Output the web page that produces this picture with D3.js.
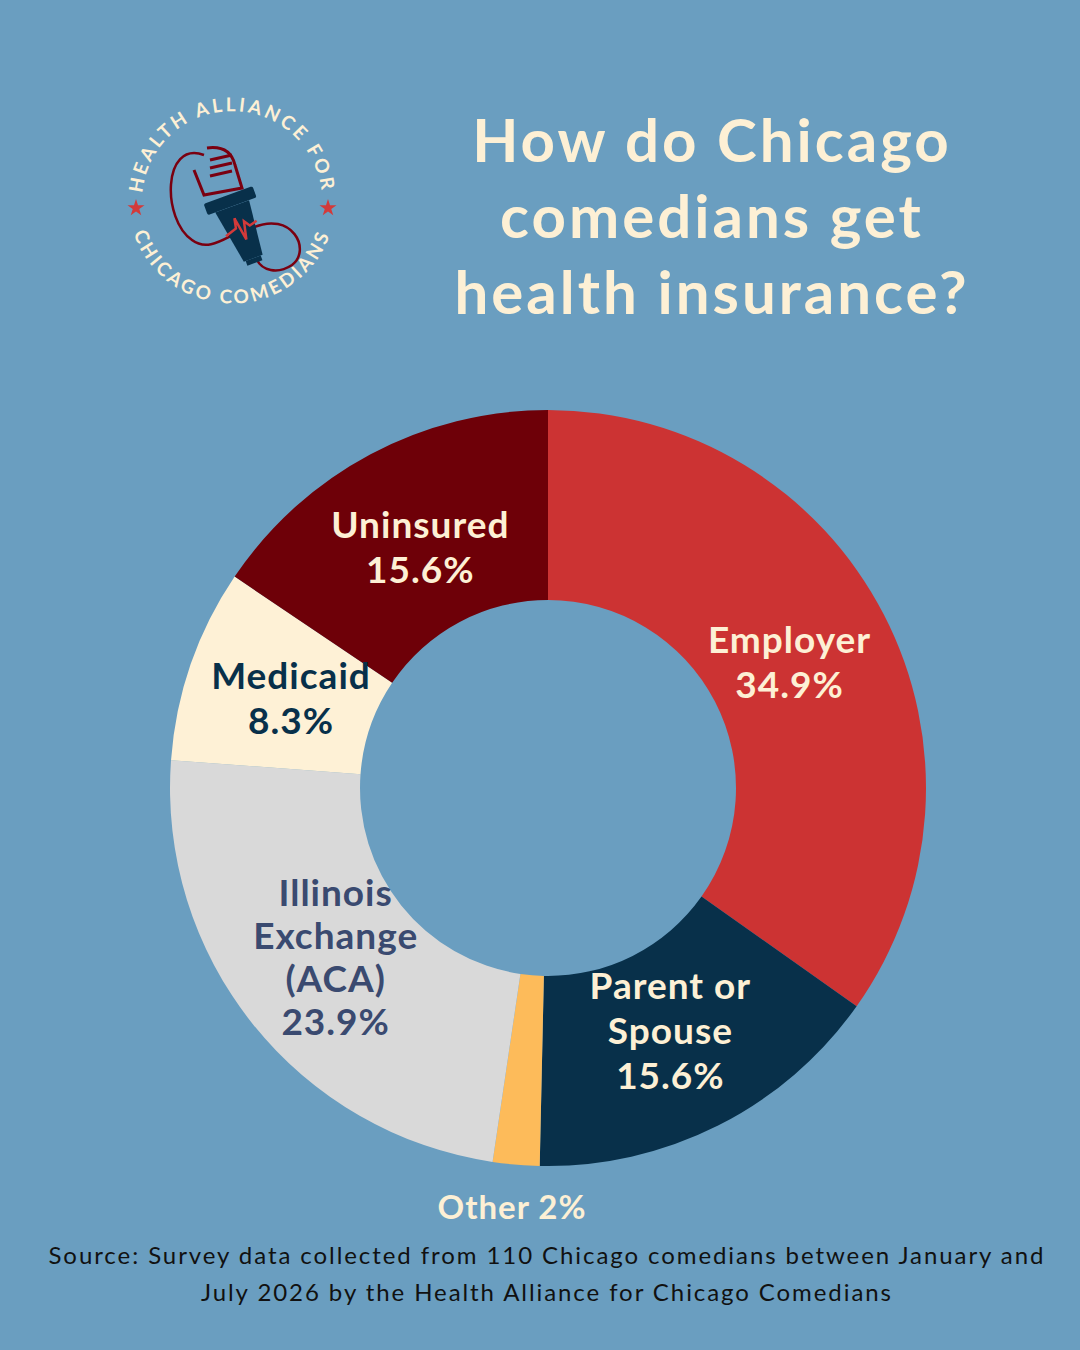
<!DOCTYPE html>
<html><head><meta charset="utf-8">
<script src="https://cdn.jsdelivr.net/npm/d3@7"></script>
<style>body{margin:0;background:#6A9EC0;}svg{display:block}</style>
</head><body>
<script>
const categories = ["Employer","Parent or Spouse","Other","Illinois Exchange (ACA)","Medicaid","Uninsured"];
const values = [34.9,15.6,2,23.9,8.3,15.6];
const labelLines = [["Employer","34.9%"],["Parent or","Spouse","15.6%"],[],["Illinois","Exchange","(ACA)","23.9%"],["Medicaid","8.3%"],["Uninsured","15.6%"]];
const colors = ["#CC3333","#08304A","#FDBB5A","#D9D9D9","#FEF1D6","#6E0008"];
const textColors = ["#FDF0D5","#FDF0D5","#FDF0D5","#3A4A70","#08304A","#FDF0D5"];
const cream="#FDF0D5";
const W=1080,H=1350;
const svg=d3.select("body").append("svg").attr("width",W).attr("height",H);
svg.append("rect").attr("width",W).attr("height",H).attr("fill","#6A9EC0");
const font="Lato, 'Noto Sans', sans-serif";

// title
["How do Chicago","comedians get","health insurance?"].forEach((t,i)=>{
 svg.append("text").attr("x",712).attr("y",162+i*76).attr("text-anchor","middle")
 .attr("font-family",font).attr("font-weight",700).attr("font-size",60).attr("letter-spacing",3).attr("fill",cream).text(t);
});

// logo
const lg=svg.append("g").attr("transform","translate(232,200)");
const defs=svg.append("defs");
defs.append("path").attr("id","topArc").attr("d","M -88,20 A 90 90 0 1 1 88,20");
defs.append("path").attr("id","botArc").attr("d","M -103,14 A 104 104 0 0 0 103,14");
lg.append("text").attr("font-family",font).attr("font-weight",700).attr("font-size",19).attr("letter-spacing",3).attr("fill",cream)
 .append("textPath").attr("href","#topArc").attr("startOffset","50%").attr("text-anchor","middle").text("HEALTH ALLIANCE FOR");
lg.append("text").attr("font-family",font).attr("font-weight",700).attr("font-size",19).attr("letter-spacing",3).attr("fill",cream)
 .append("textPath").attr("href","#botArc").attr("startOffset","50%").attr("text-anchor","middle").text("CHICAGO COMEDIANS");
const star=d3.symbol().type(d3.symbolStar).size(90);
[-96,96].forEach(x=>lg.append("path").attr("d",star()).attr("transform",`translate(${x},8)`).attr("fill","#D33A3A"));
lg.append("path").attr("d","M -28,-45 C -70,-60 -70,20 -40,40 C -20,55 0,30 20,28 C 60,10 80,50 60,65 C 45,75 30,70 25,60")
 .attr("fill","none").attr("stroke","#7A0010").attr("stroke-width",2.5);
lg.append("path").attr("d","M -38,-30 L -28,-5 L 10,-12 L 3,-35 Q -2,-55 -25,-52").attr("fill","none").attr("stroke","#7A0010").attr("stroke-width",3);
[-40,-32,-24].forEach(y=>lg.append("line").attr("x1",-22).attr("y1",y).attr("x2",0).attr("y2",y-5).attr("stroke","#7A0010").attr("stroke-width",3));
const mb=lg.append("g").attr("transform","rotate(-20)");
mb.append("rect").attr("x",-28).attr("y",-6).attr("width",52).attr("height",12).attr("rx",2).attr("fill","#08304A");
mb.append("path").attr("d","M -20,6 L 16,6 L 10,62 L -10,62 Z").attr("fill","#08304A");
mb.append("rect").attr("x",-8).attr("y",62).attr("width",16).attr("height",5).attr("fill","#08304A");
mb.append("path").attr("d","M -18,32 L -6,28 L -4,18 L 0,42 L 4,24 L 8,30 L 16,28").attr("fill","none").attr("stroke","#D33A3A").attr("stroke-width",2.5);

// donut
const cx=548,cy=788,R=378,r0=188;
const g=svg.append("g").attr("transform",`translate(${cx},${cy})`);
const pie=d3.pie().sort(null).value(d=>d)(values);
const arc=d3.arc().innerRadius(r0).outerRadius(R);
const lab=d3.arc().innerRadius(272).outerRadius(272);
g.selectAll("path.s").data(pie).join("path").attr("d",arc).attr("fill",(d,i)=>colors[i]);
pie.forEach((d,i)=>{
 const lines=labelLines[i]; if(!lines.length) return;
 const [x,y]=lab.centroid(d);
 const lh=i===3?43:45;
 const t=g.append("text").attr("text-anchor","middle").attr("font-family",font).attr("font-weight",700)
  .attr("font-size",37).attr("letter-spacing",1).attr("fill",textColors[i]);
 lines.forEach((l,k)=>t.append("tspan").attr("x",x).attr("y",y+(k-(lines.length-1)/2)*lh+13).text(l));
});
svg.append("text").attr("x",512).attr("y",1219).attr("text-anchor","middle").attr("font-family",font).attr("font-weight",700)
 .attr("font-size",33).attr("letter-spacing",1).attr("fill",cream).text("Other 2%");

// source
[["Source: Survey data collected from 110 Chicago comedians between January and",995],["July 2026 by the Health Alliance for Chicago Comedians",690]].forEach(([t,w],i)=>{
 svg.append("text").attr("x",546).attr("y",1264+i*37).attr("text-anchor","middle").attr("font-family",font)
 .attr("font-size",24).attr("textLength",w).attr("lengthAdjust","spacing").attr("fill","#111").text(t);
});
</script>
</body></html>
